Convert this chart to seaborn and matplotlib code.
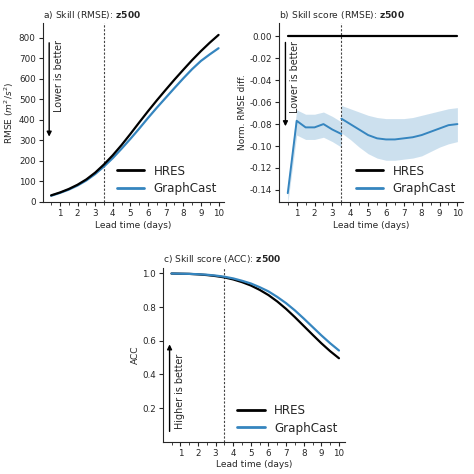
import numpy as np
import pandas as pd
import matplotlib
matplotlib.use("Agg")
import matplotlib.pyplot as plt
import seaborn as sns
from matplotlib.ticker import MultipleLocator

# ─── Data ────────────────────────────────────────────────────────────────────
lead_days = [0.5, 1.0, 1.5, 2.0, 2.5, 3.0, 3.5, 4.0, 4.5, 5.0,
             5.5, 6.0, 6.5, 7.0, 7.5, 8.0, 8.5, 9.0, 9.5, 10.0]

rmse_hres = [32, 46, 63, 84, 110, 143, 183, 228, 278, 332,
             388, 443, 496, 547, 597, 645, 692, 736, 777, 815]
rmse_graphcast = [30, 44, 60, 80, 105, 136, 173, 214, 260, 308,
                  358, 410, 460, 508, 556, 603, 648, 688, 720, 750]

acc_hres = [0.999, 0.998, 0.997, 0.994, 0.990, 0.984, 0.976, 0.964, 0.948, 0.928,
            0.902, 0.871, 0.833, 0.789, 0.740, 0.688, 0.636, 0.585, 0.538, 0.496]
acc_graphcast = [0.999, 0.998, 0.997, 0.995, 0.992, 0.987, 0.980, 0.970, 0.956, 0.940,
                 0.918, 0.893, 0.860, 0.823, 0.780, 0.732, 0.682, 0.632, 0.585, 0.542]

# skill score: two verification periods, split at 3.5 days
lead_early = [0.5, 1.0, 1.5, 2.0, 2.5, 3.0, 3.5]
diff_early = [-0.143, -0.077, -0.083, -0.083, -0.080, -0.085, -0.089]
diff_early_hi = [-0.136, -0.067, -0.071, -0.071, -0.069, -0.073, -0.078]
diff_early_lo = [-0.152, -0.090, -0.094, -0.094, -0.092, -0.096, -0.101]

lead_late = [3.5, 4.0, 4.5, 5.0, 5.5, 6.0, 6.5, 7.0, 7.5, 8.0, 8.5, 9.0, 9.5, 10.0]
diff_late = [-0.075, -0.080, -0.085, -0.090, -0.093, -0.094, -0.094,
             -0.093, -0.092, -0.090, -0.087, -0.084, -0.081, -0.080]
diff_late_hi = [-0.063, -0.066, -0.069, -0.072, -0.074, -0.075, -0.075,
                -0.075, -0.074, -0.072, -0.070, -0.068, -0.066, -0.065]
diff_late_lo = [-0.088, -0.094, -0.101, -0.107, -0.111, -0.113, -0.113,
                -0.112, -0.111, -0.109, -0.105, -0.101, -0.098, -0.096]

HRES_C = "black"
GC_C   = "#3585bf"

sns.set_style("ticks")
plt.rcParams["font.family"] = ["DejaVu Sans"]
plt.rcParams["mathtext.fontset"] = "dejavusans"

fig = plt.figure(figsize=(4.74, 4.74), dpi=100)
ax_a = fig.add_axes([0.090, 0.574, 0.383, 0.377])
ax_b = fig.add_axes([0.589, 0.574, 0.388, 0.377])
ax_c = fig.add_axes([0.344, 0.068, 0.383, 0.367])

df = pd.DataFrame({"lead": lead_days,
                   "rmse_hres": rmse_hres, "rmse_gc": rmse_graphcast,
                   "acc_hres": acc_hres, "acc_gc": acc_graphcast})


def style(ax, title, ylabel):
    ax.set_xlim(0.02, 10.32)
    ax.set_xticks(range(1, 11))
    ax.xaxis.set_minor_locator(MultipleLocator(0.5))
    ax.tick_params(labelsize=6.3, length=3, width=0.8, pad=2)
    ax.tick_params(which="minor", length=1.8, width=0.6)
    ax.set_xlabel("Lead time (days)", fontsize=6.5, labelpad=2)
    ax.set_ylabel(ylabel, fontsize=6.5, labelpad=2)
    ax.set_title(title, loc="left", fontsize=6.6, pad=4)
    ax.axvline(3.5, color="#444444", ls=(0, (2, 1.5)), lw=0.8, zorder=1)
    sns.despine(ax=ax)
    for s in ["left", "bottom"]:
        ax.spines[s].set_linewidth(0.8)
    h, l = ax.get_legend_handles_labels()
    order = [l.index("HRES"), l.index("GraphCast")]
    leg = ax.legend([h[i] for i in order], [l[i] for i in order],
                    loc="lower right", frameon=False, fontsize=8.6,
                    handlelength=2.3, borderaxespad=0.2, labelspacing=0.35)
    for line in leg.get_lines():
        line.set_linewidth(2.0)


# ─── a) RMSE ─────────────────────────────────────────────────────────────────
ax = ax_a
sns.lineplot(data=df, x="lead", y="rmse_gc", ax=ax, color=GC_C, lw=1.6, label="GraphCast")
sns.lineplot(data=df, x="lead", y="rmse_hres", ax=ax, color=HRES_C, lw=1.6, label="HRES")
ax.set_ylim(0, 872)
ax.set_yticks(range(0, 801, 100))
ax.annotate("", xy=(0.39, 305), xytext=(0.39, 790),
            arrowprops=dict(arrowstyle="-|>", color="black", lw=1.0, mutation_scale=7))
ax.text(0.96, 790, "Lower is better", rotation=90, va="top", ha="center", fontsize=6.9)
style(ax, "a) Skill (RMSE): $\\bf{z500}$", "RMSE ($m^2/s^2$)")

# ─── b) normalised RMSE difference ───────────────────────────────────────────
ax = ax_b
ax.fill_between(lead_early, diff_early_lo, diff_early_hi, color=GC_C, alpha=0.25, lw=0)
ax.fill_between(lead_late, diff_late_lo, diff_late_hi, color=GC_C, alpha=0.25, lw=0)
sns.lineplot(x=lead_early, y=diff_early, ax=ax, color=GC_C, lw=1.4, label="GraphCast")
sns.lineplot(x=lead_late, y=diff_late, ax=ax, color=GC_C, lw=1.4)
sns.lineplot(x=lead_days, y=[0.0] * len(lead_days), ax=ax, color=HRES_C, lw=1.6, label="HRES")
ax.set_ylim(-0.151, 0.012)
ax.set_yticks(np.arange(-0.14, 0.001, 0.02))
ax.yaxis.set_major_formatter(matplotlib.ticker.FormatStrFormatter("%.2f"))
ax.annotate("", xy=(0.37, -0.0845), xytext=(0.37, -0.003),
            arrowprops=dict(arrowstyle="-|>", color="black", lw=1.0, mutation_scale=7))
ax.text(0.93, -0.004, "Lower is better", rotation=90, va="top", ha="center", fontsize=6.9)
style(ax, "b) Skill score (RMSE): $\\bf{z500}$", "Norm. RMSE diff.")

# ─── c) ACC ──────────────────────────────────────────────────────────────────
ax = ax_c
sns.lineplot(data=df, x="lead", y="acc_hres", ax=ax, color=HRES_C, lw=1.6, label="HRES")
sns.lineplot(data=df, x="lead", y="acc_gc", ax=ax, color=GC_C, lw=1.6, label="GraphCast")
ax.set_ylim(0, 1.033)
ax.set_yticks([0.2, 0.4, 0.6, 0.8, 1.0])
ax.annotate("", xy=(0.39, 0.595), xytext=(0.39, 0.045),
            arrowprops=dict(arrowstyle="-|>", color="black", lw=1.0, mutation_scale=7))
ax.text(0.96, 0.075, "Higher is better", rotation=90, va="bottom", ha="center", fontsize=6.9)
style(ax, "c) Skill score (ACC): $\\bf{z500}$", "ACC")

fig.savefig("out.png", dpi=100)
